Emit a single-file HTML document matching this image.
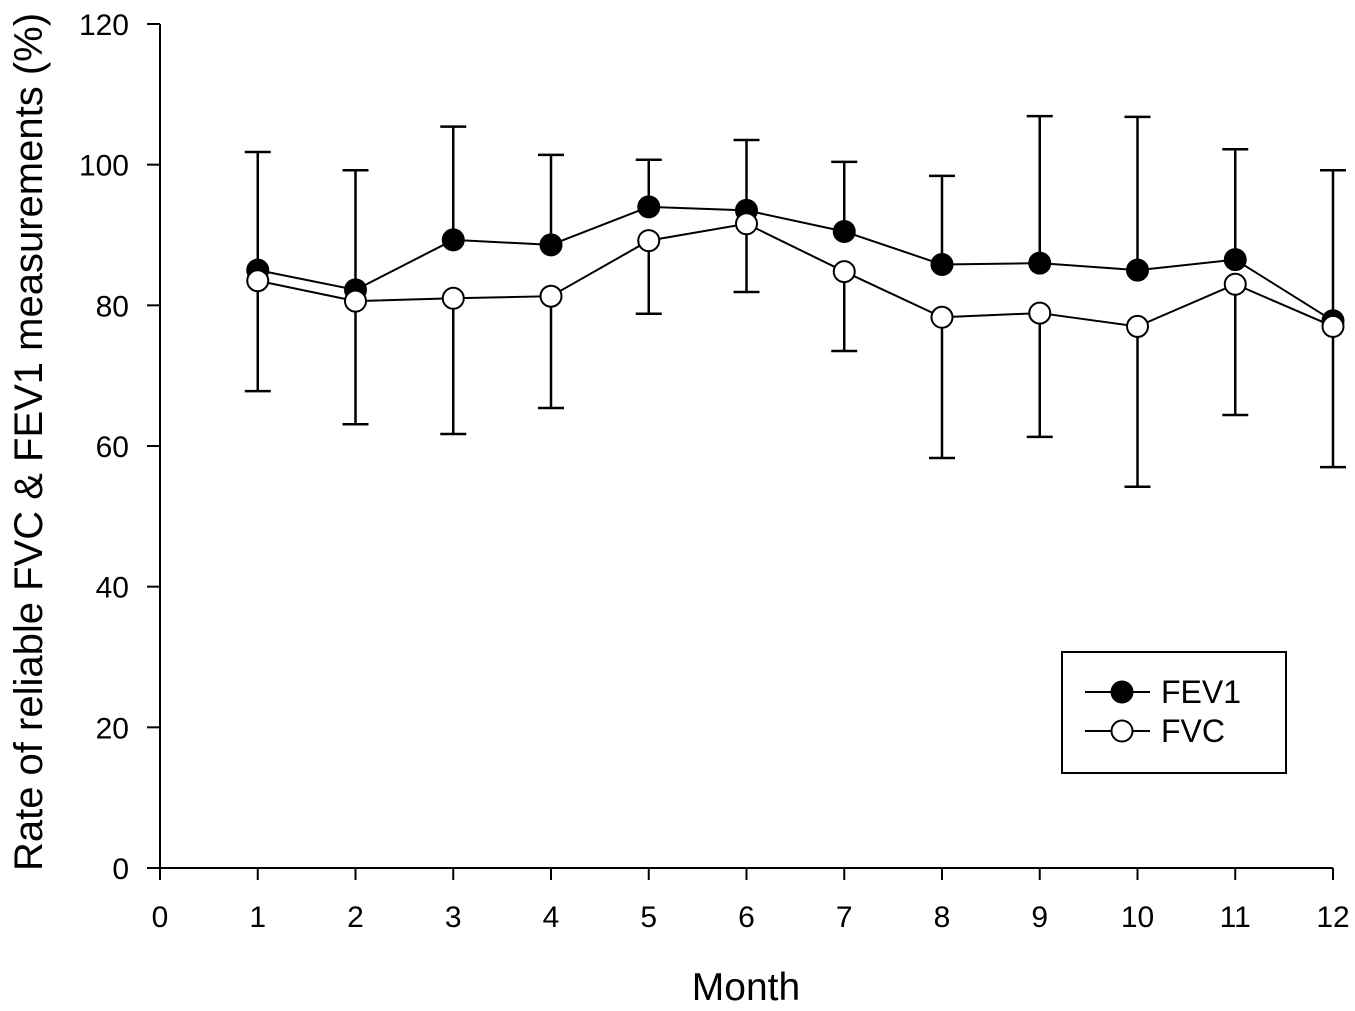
<!DOCTYPE html>
<html><head><meta charset="utf-8"><style>
body{margin:0;background:#fff}
svg{display:block;font-family:"Liberation Sans",Arial,sans-serif}
</style></head><body>
<svg id="chart" width="1355" height="1011">
<g id="axes"></g><g id="marks"></g>
<text x="746" y="1000" font-size="39" text-anchor="middle">Month</text>
<text transform="translate(42,442) rotate(-90)" font-size="40" text-anchor="middle">Rate of reliable FVC &amp; FEV1 measurements (%)</text>
<g>
<rect x="1062" y="652" width="224" height="121" fill="#fff" stroke="#000" stroke-width="2"/>
<g>
<line x1="1085" y1="692" x2="1150" y2="692" stroke="#000" stroke-width="2"/>
<circle cx="1122" cy="692" r="10.5" fill="#000" stroke="#000" stroke-width="2"/>
<text x="1161" y="703" font-size="32">FEV1</text></g>
<g>
<line x1="1085" y1="731" x2="1150" y2="731" stroke="#000" stroke-width="2"/>
<circle cx="1122" cy="731" r="10.5" fill="#fff" stroke="#000" stroke-width="2"/>
<text x="1161" y="742" font-size="32">FVC</text></g>
</g>
</svg>
<script>
const months=[1,2,3,4,5,6,7,8,9,10,11,12];
const fev1=[85,82.2,89.3,88.6,94,93.5,90.5,85.8,86,85,86.5,77.8];
const fvc=[83.5,80.6,81,81.3,89.2,91.6,84.8,78.3,78.9,77,83,77];
const upperErr=[101.8,99.2,105.4,101.4,100.7,103.5,100.4,98.4,106.9,106.8,102.2,99.2];
const lowerErr=[67.8,63.1,61.7,65.4,78.8,81.9,73.5,58.3,61.3,54.2,64.4,57.0];
const xTicks=[0,1,2,3,4,5,6,7,8,9,10,11,12];
const yTicks=[0,20,40,60,80,100,120];
const NS="http://www.w3.org/2000/svg";
const X=v=>160+v*(1333-160)/12;
const Y=v=>868-v*(868-24)/120;
function mk(tag,attrs,parent){const e=document.createElementNS(NS,tag);for(const k in attrs)e.setAttribute(k,attrs[k]);parent.appendChild(e);return e;}
const axes=document.getElementById('axes'),marks=document.getElementById('marks');
let a=mk('line',{x1:160,y1:24,x2:160,y2:868,stroke:'#000','stroke-width':2},axes);


a=mk('line',{x1:160,y1:868,x2:1333,y2:868,stroke:'#000','stroke-width':2},axes);


yTicks.forEach(v=>{
 mk('line',{x1:147,y1:Y(v),x2:160,y2:Y(v),stroke:'#000','stroke-width':2},axes);
 const t=mk('text',{x:129,y:Y(v)+11,'font-size':30,'text-anchor':'end'},axes);t.textContent=v;
 
 
});
xTicks.forEach(v=>{
 mk('line',{x1:X(v),y1:868,x2:X(v),y2:880,stroke:'#000','stroke-width':2},axes);
 const t=mk('text',{x:X(v),y:927,'font-size':30,'text-anchor':'middle'},axes);t.textContent=v;
 
 
});
months.forEach((m,i)=>{
 const top=Math.max(fev1[i],fvc[i]);
 let e=mk('path',{d:`M${X(m)},${Y(top)}V${Y(upperErr[i])}M${X(m)-13},${Y(upperErr[i])}H${X(m)+13}`,stroke:'#000','stroke-width':2.5,fill:'none'},marks);
 
 
 const bot=Math.min(fev1[i],fvc[i]);
 e=mk('path',{d:`M${X(m)},${Y(bot)}V${Y(lowerErr[i])}M${X(m)-13},${Y(lowerErr[i])}H${X(m)+13}`,stroke:'#000','stroke-width':2.5,fill:'none'},marks);
 
 
});
function series(vals,fill,name){
 const l=mk('polyline',{points:months.map((m,i)=>X(m)+','+Y(vals[i])).join(' '),fill:'none',stroke:'#000','stroke-width':2},marks);
 
 
 months.forEach((m,i)=>{
  const c=mk('circle',{cx:X(m),cy:Y(vals[i]),r:10.5,fill:fill,stroke:'#000','stroke-width':2},marks);
  
  
 });
}
series(fev1,'#000','fev1');
series(fvc,'#fff','fvc');
</script>
</body></html>
